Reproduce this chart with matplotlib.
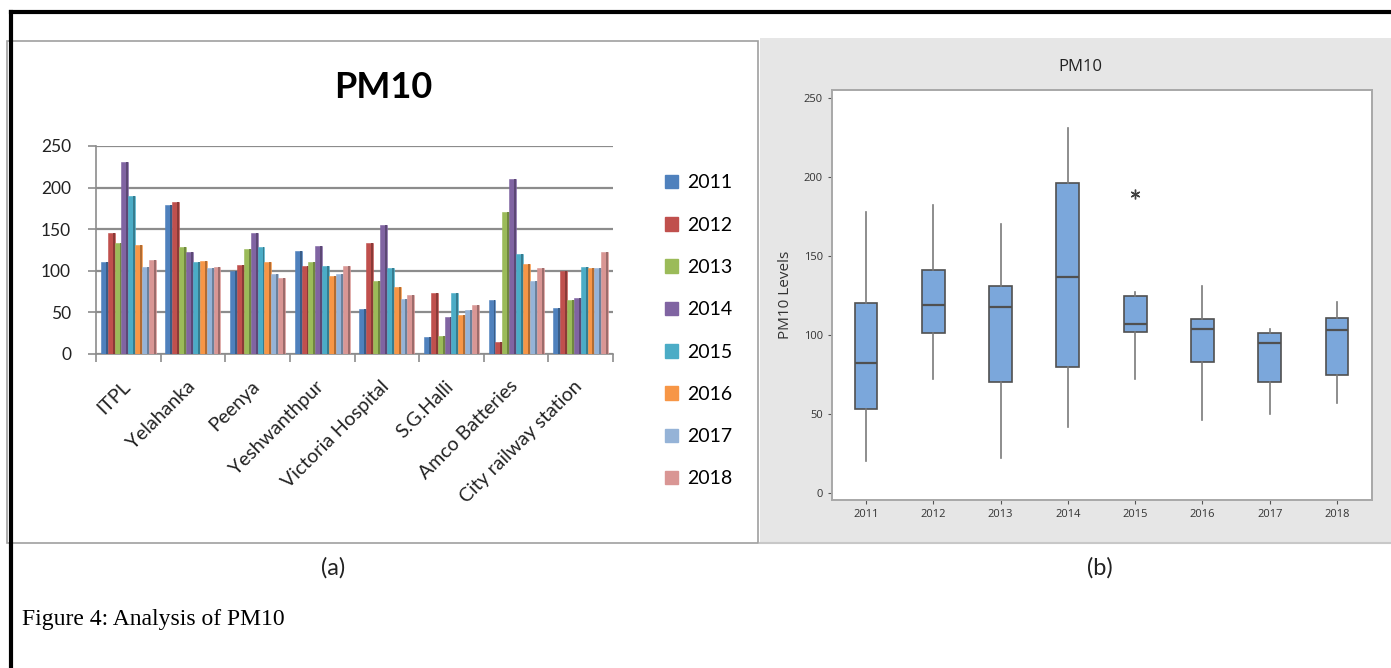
# PM10 figure: grouped bars per site (a) and yearly box plot (b)

import numpy as np
import matplotlib.pyplot as plt
import matplotlib.transforms as mtransforms
from matplotlib.patches import Rectangle, Patch
from matplotlib.lines import Line2D
from matplotlib.colors import to_rgb

sites = ["ITPL", "Yelahanka", "Peenya", "Yeshwanthpur", "Victoria Hospital",
         "S.G.Halli", "Amco Batteries", "City railway station"]
years = ["2011", "2012", "2013", "2014", "2015", "2016", "2017", "2018"]

pm10_2011 = [110, 179, 100, 124, 54, 21, 65, 55]
pm10_2012 = [145, 183, 107, 106, 133, 73, 14, 100]
pm10_2013 = [133, 129, 126, 111, 88, 22, 171, 65]
pm10_2014 = [231, 122, 145, 130, 155, 44, 210, 67]
pm10_2015 = [190, 110, 129, 106, 103, 73, 120, 105]
pm10_2016 = [131, 112, 110, 94, 81, 47, 108, 103]
pm10_2017 = [104, 103, 96, 96, 66, 53, 88, 103]
pm10_2018 = [113, 104, 91, 106, 71, 59, 103, 122]
year_values = [pm10_2011, pm10_2012, pm10_2013, pm10_2014,
               pm10_2015, pm10_2016, pm10_2017, pm10_2018]

# box plot summary
box_whislo = [20, 72, 22, 42, 72, 46, 50, 57]
box_q1 = [53, 101, 70, 80, 102, 83, 70, 75]
box_med = [82, 119, 118, 137, 107, 104, 95, 103]
box_q3 = [120, 141, 131, 196, 125, 110, 101, 111]
box_whishi = [178, 182, 170, 231, 127, 131, 104, 121]
box_fliers = [[], [], [], [], [189], [], [], []]

colors = ['#4F81BD', '#C0504D', '#9BBB59', '#8064A2',
          '#4BACC6', '#F79646', '#95B3D7', '#D99694']

W, H = 1391, 668
fig = plt.figure(figsize=(W / 100, H / 100), dpi=100)
fig.patch.set_facecolor('white')


def fx(px):
    return px / W


def fy(py):
    return 1 - py / H


def darker(c, f=0.72):
    return tuple(v * f for v in to_rgb(c))


# panel frames (behind the axes)
fig.add_artist(Rectangle((fx(7), fy(543)), fx(751), (543 - 41) / H,
                         transform=fig.transFigure, facecolor='white',
                         edgecolor='#a0a0a0', lw=1.2, zorder=-10))
fig.add_artist(Rectangle((fx(760), fy(543)), fx(W - 760), (543 - 38) / H,
                         transform=fig.transFigure, facecolor='#e6e6e6',
                         edgecolor='none', zorder=-10))
fig.add_artist(Line2D([fx(760), 1], [fy(543), fy(543)], transform=fig.transFigure,
                      color='#c8c8c8', lw=1.5, zorder=-9))
# thick black page border
fig.add_artist(Line2D([fx(11), 1], [fy(11.5), fy(11.5)], transform=fig.transFigure,
                      color='black', lw=3, zorder=10))
fig.add_artist(Line2D([fx(11), fx(11)], [0, fy(11.5)], transform=fig.transFigure,
                      color='black', lw=3, zorder=10))

# ---- (a) grouped bar chart ----
axa = fig.add_axes([fx(96), fy(354), fx(613 - 96), (354 - 146) / H])
axa.patch.set_alpha(0)
x = np.arange(len(sites))
bw = 0.85 / len(years)
for i, (yr, vals) in enumerate(zip(years, year_values)):
    off = (i - (len(years) - 1) / 2) * bw
    axa.bar(x + off, vals, bw, color=colors[i], edgecolor=colors[i],
            linewidth=0.4, label=yr, zorder=3)
    # darker right face for the Excel 3-D look
    axa.bar(x + off + bw * 0.36, vals, bw * 0.28, color=darker(colors[i]),
            linewidth=0, zorder=4)

axa.set_xlim(-0.5, len(sites) - 0.5)
axa.set_ylim(0, 250)
axa.set_yticks(np.arange(0, 251, 50))
axa.yaxis.grid(True, color='#8c8c8c', lw=1.6, zorder=0)
axa.set_axisbelow(True)
for s in ['top', 'right']:
    axa.spines[s].set_visible(False)
axa.spines['left'].set_color('#8c8c8c')
axa.spines['bottom'].set_color('#8c8c8c')
axa.spines['left'].set_linewidth(1.2)
axa.spines['bottom'].set_linewidth(1.2)
axa.tick_params(axis='y', colors='#8c8c8c', length=6, width=1.2, pad=12,
                labelcolor='#222222', labelsize=12.5)
axa.set_xticks(np.arange(-0.5, len(sites)), minor=True)
axa.tick_params(axis='x', which='minor', length=6, width=1.2, colors='#8c8c8c')
axa.set_xticks(x)
axa.set_xticklabels(sites, rotation=45, ha='right', va='top',
                    rotation_mode='anchor', fontsize=14, color='#222222')
axa.tick_params(axis='x', which='major', length=0, pad=17)
shift = mtransforms.ScaledTranslation(-7 / 100, 0, fig.dpi_scale_trans)
for lbl in axa.get_xticklabels():
    lbl.set_transform(lbl.get_transform() + shift)
for lbl in axa.get_xticklabels() + axa.get_yticklabels():
    lbl.set_family('Lato')

fig.text(fx(383), fy(88), "PM10", ha='center', va='center', fontsize=26,
         fontweight='bold', family='Lato', color='black')

handles = [Patch(facecolor=c, edgecolor=c) for c in colors]
fig.legend(handles, years, loc='upper left', bbox_to_anchor=(fx(647), fy(157)),
           frameon=False, prop={'family': 'Lato', 'size': 14},
           handlelength=0.7, handleheight=0.7, handletextpad=0.45,
           labelspacing=1.3)

# ---- (b) box plot ----
axb = fig.add_axes([fx(832), fy(500), fx(1372 - 832), (500 - 90) / H])
stats = []
for i in range(len(years)):
    stats.append(dict(whislo=box_whislo[i], q1=box_q1[i], med=box_med[i],
                      q3=box_q3[i], whishi=box_whishi[i], fliers=box_fliers[i]))
axb.bxp(stats, positions=np.arange(len(years)), widths=0.34, patch_artist=True,
        showcaps=False,
        boxprops=dict(facecolor='#7BA7DB', edgecolor='#505050', lw=1.2),
        medianprops=dict(color='#505050', lw=1.6),
        whiskerprops=dict(color='#7a7a7a', lw=1.2),
        flierprops=dict(marker=(6, 2, 0), markersize=7, markeredgecolor='#404040',
                        markeredgewidth=1.0))
axb.set_xlim(-0.505, 7.52)
axb.set_ylim(-4.4, 255.1)
axb.set_yticks(np.arange(0, 251, 50))
axb.set_xticks(np.arange(len(years)))
axb.set_xticklabels(years)
for s in axb.spines.values():
    s.set_color('#a8a8a8')
    s.set_linewidth(1.4)
axb.tick_params(axis='both', labelsize=8, colors='#555555', length=3,
                labelcolor='#333333')
for lbl in axb.get_xticklabels() + axb.get_yticklabels():
    lbl.set_family('Open Sans')
axb.set_ylabel("PM10 Levels", fontsize=11, family='Open Sans', color='#333333',
               labelpad=8)
fig.text(fx(1080), fy(67), "PM10", ha='center', va='center', fontsize=12,
         family='Open Sans', color='#222222')

# captions
fig.text(fx(333), fy(568), "(a)", ha='center', va='center', fontsize=17,
         family='Lato', color='#222222')
fig.text(fx(1100), fy(568), "(b)", ha='center', va='center', fontsize=17,
         family='Lato', color='#222222')
fig.text(fx(22), fy(620), "Figure 4: Analysis of PM10", ha='left', va='center',
         fontsize=17, family='Liberation Serif', color='black')

fig.savefig('out.png', dpi=100, facecolor='white')
